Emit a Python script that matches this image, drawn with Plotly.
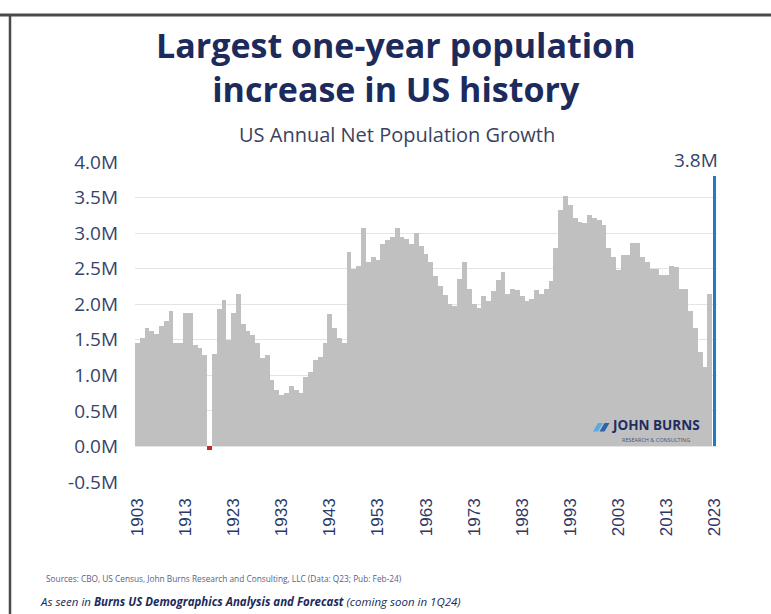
import plotly.graph_objects as go

# US annual net population growth, millions of people
years = list(range(1903, 2024))
growth_m = [
    1.46, 1.52, 1.66, 1.62, 1.58, 1.69, 1.76, 1.90, 1.46, 1.45,   # 1903-1912
    1.87, 1.87, 1.43, 1.39, 1.29, -0.05, 1.30, 1.93, 2.06, 1.50,  # 1913-1922
    1.88, 2.15, 1.72, 1.62, 1.57, 1.45, 1.25, 1.29, 0.94, 0.80,   # 1923-1932
    0.72, 0.75, 0.85, 0.80, 0.75, 0.98, 1.05, 1.22, 1.26, 1.45,   # 1933-1942
    1.86, 1.66, 1.52, 1.45, 2.74, 2.49, 2.54, 3.07, 2.60, 2.67,   # 1943-1952
    2.62, 2.85, 2.90, 2.95, 3.07, 2.95, 2.92, 2.85, 3.00, 2.82,   # 1953-1962
    2.70, 2.60, 2.39, 2.25, 2.13, 2.00, 1.97, 2.36, 2.60, 2.22,   # 1963-1972
    2.01, 1.94, 2.11, 2.04, 2.18, 2.34, 2.46, 2.15, 2.22, 2.20,   # 1973-1982
    2.11, 2.04, 2.08, 2.20, 2.15, 2.22, 2.32, 2.79, 3.32, 3.52,   # 1983-1992
    3.39, 3.21, 3.16, 3.14, 3.25, 3.21, 3.18, 3.11, 2.79, 2.67,   # 1993-2002
    2.48, 2.69, 2.69, 2.86, 2.86, 2.67, 2.60, 2.50, 2.50, 2.41,   # 2003-2012
    2.41, 2.54, 2.53, 2.22, 2.22, 1.90, 1.66, 1.33, 1.12, 2.15,   # 2013-2022
    3.80,                                                         # 2023
]
highlight_year = 2023

y_ticks = [-0.5, 0.0, 0.5, 1.0, 1.5, 2.0, 2.5, 3.0, 3.5, 4.0]
y_tick_text = ["-0.5M", "0.0M", "0.5M", "1.0M", "1.5M", "2.0M", "2.5M", "3.0M", "3.5M", "4.0M"]
x_ticks = [1903, 1913, 1923, 1933, 1943, 1953, 1963, 1973, 1983, 1993, 2003, 2013, 2023]

title_lines = ["Largest one-year population", "increase in US history"]
subtitle = "US Annual Net Population Growth"
sources = "Sources: CBO, US Census, John Burns Research and Consulting, LLC (Data: Q23; Pub: Feb-24)"
seen_in = ("<i>As seen in <b>Burns US Demographics Analysis and Forecast</b> "
           "(coming soon in 1Q24)</i>")

# page and plot-area geometry in pixels
W, H = 771, 614
L, R, T, B = 135, 717, 162, 482

NAVY = "#1c2a5c"
TICK = "#36436c"
GREY_BAR = "#c0c0c0"
BLUE = "#1f7bc6"
RED = "#c8281e"


def px(x):
    return (x - L) / (R - L)


def py(y):
    return (B - y) / (B - T)


colors, widths = [], []
for yr, v in zip(years, growth_m):
    if yr == highlight_year:
        colors.append(BLUE)
        widths.append(0.6)
    elif v < 0:
        colors.append(RED)
        widths.append(1.0)
    else:
        colors.append(GREY_BAR)
        widths.append(1.0)

fig = go.Figure(
    go.Bar(
        x=years,
        y=growth_m,
        width=widths,
        marker=dict(color=colors, line=dict(width=0)),
        hoverinfo="x+y",
    )
)

hl_value = growth_m[years.index(highlight_year)]

annotations = [
    dict(text="<br>".join(title_lines), x=px(396), y=py(67), xref="paper", yref="paper",
         showarrow=False, xanchor="center", yanchor="middle", align="center",
         font=dict(family="Open Sans", size=34, color=NAVY, weight="bold")),
    dict(text=subtitle, x=px(397), y=py(135), xref="paper", yref="paper",
         showarrow=False, xanchor="center", yanchor="middle",
         font=dict(family="Open Sans", size=20, color="#3a4260")),
    dict(text=f"{hl_value:.1f}M", x=highlight_year, y=hl_value, xref="x", yref="y",
         showarrow=False, xanchor="right", yanchor="bottom", xshift=5, yshift=1,
         font=dict(family="Open Sans", size=19, color=TICK)),
    dict(text=sources, x=px(44), y=py(578), xref="paper", yref="paper",
         showarrow=False, xanchor="left", yanchor="middle",
         font=dict(family="Open Sans", size=8.3, color="#55608a")),
    dict(text=seen_in, x=px(38), y=py(601), xref="paper", yref="paper",
         showarrow=False, xanchor="left", yanchor="middle",
         font=dict(family="Open Sans", size=11.5, color=NAVY)),
    # logo lettering
    dict(text="<b>JOHN BURNS</b>", x=px(656), y=py(435), xref="paper", yref="paper",
         showarrow=False, xanchor="center", yanchor="bottom", borderpad=0,
         font=dict(family="Open Sans", size=13.5, color="#1f2d60")),
    dict(text="RESEARCH &amp; CONSULTING", x=px(656), y=py(435), xref="paper", yref="paper",
         showarrow=False, xanchor="center", yanchor="top", borderpad=0,
         font=dict(family="Open Sans", size=5.5, color="#4a5578")),
]


def poly(points):
    pts = [f"{px(x):.5f},{py(y):.5f}" for x, y in points]
    return "M " + " L ".join(pts) + " Z"


shapes = [
    # card frame: dark rule on top and left
    dict(type="line", xref="paper", yref="paper", x0=px(0), x1=px(771), y0=py(15), y1=py(15),
         line=dict(color="#4a4a4a", width=3), layer="above"),
    dict(type="line", xref="paper", yref="paper", x0=px(10), x1=px(10), y0=py(15), y1=py(614),
         line=dict(color="#4a4a4a", width=2.5), layer="above"),
    # logo mark: two slanted stripes
    dict(type="path", xref="paper", yref="paper",
         path=poly([(593, 431.5), (598, 423), (603, 423), (598, 431.5)]),
         fillcolor="#5aa9e0", line=dict(width=0), layer="above"),
    dict(type="path", xref="paper", yref="paper",
         path=poly([(599.5, 431.5), (604.5, 423), (609.5, 423), (604.5, 431.5)]),
         fillcolor="#2a63b0", line=dict(width=0), layer="above"),
]

fig.update_layout(
    width=W,
    height=H,
    margin=dict(l=L, r=W - R, t=T, b=H - B, pad=0),
    paper_bgcolor="white",
    plot_bgcolor="white",
    bargap=0,
    showlegend=False,
    annotations=annotations,
    shapes=shapes,
    xaxis=dict(
        range=[1902.5, 2023.5],
        tickvals=x_ticks,
        tickangle=-90,
        showgrid=False,
        zeroline=False,
        showline=False,
        ticks="",
        ticklabelstandoff=12,
        tickfont=dict(family="Liberation Sans", size=17, color="#2c3966"),
        fixedrange=True,
    ),
    yaxis=dict(
        range=[-0.5, 4.0],
        tickvals=y_ticks,
        ticktext=y_tick_text,
        showgrid=True,
        gridcolor="#e4e4e4",
        gridwidth=1,
        zeroline=False,
        showline=False,
        ticks="",
        ticklabelstandoff=16,
        tickfont=dict(family="Open Sans", size=19, color=TICK),
        fixedrange=True,
    ),
)

fig.write_html("out.html")
